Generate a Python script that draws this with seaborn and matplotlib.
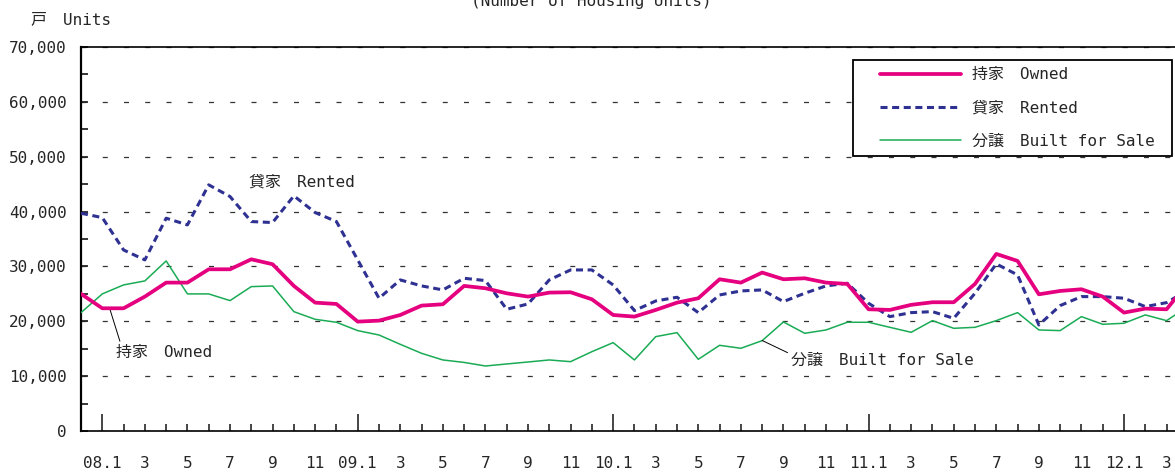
import numpy as np
import pandas as pd
import matplotlib
matplotlib.use('Agg')
import matplotlib.pyplot as plt
from matplotlib.ticker import MultipleLocator, FuncFormatter
from matplotlib.lines import Line2D
from matplotlib.legend_handler import HandlerLine2D
import seaborn as sns

# monthly housing starts, 07.12 .. 12.4 (units)
owned = [25000, 22370, 22370, 24500, 27050, 27050, 29480, 29480, 31300, 30400,
         26450, 23400, 23160, 19940, 20120, 21150, 22860, 23100, 26450, 26020,
         25100, 24500, 25230, 25290, 24010, 21150, 20850, 22070, 23400, 24200,
         27660, 27050, 28880, 27660, 27840, 27050, 26810, 22190, 22070, 23000,
         23470, 23470, 26810, 32280, 31000, 24920, 25530, 25840, 24500, 21580,
         22310, 22190, 27000]
rented = [39700, 38900, 33000, 31190, 38790, 37570, 44870, 42740, 38180, 38000,
          42860, 39820, 38180, 31190, 24200, 27540, 26450, 25720, 27840, 27420,
          22190, 23160, 27540, 29360, 29360, 26630, 21950, 23700, 24380, 21580,
          24800, 25530, 25720, 23590, 25110, 26450, 26930, 23280, 20850, 21580,
          21760, 20540, 25110, 30460, 28450, 19330, 22860, 24500, 24500, 24200,
          22680, 23400, 25700]
for_sale = [21580, 24990, 26630, 27360, 31000, 24990, 24990, 23770, 26320, 26440,
            21760, 20360, 19820, 18300, 17500, 15800, 14160, 12950, 12500, 11850,
            12220, 12580, 12950, 12640, 14460, 16110, 12950, 17200, 17930, 13070,
            15620, 15080, 16470, 19880, 17810, 18420, 19820, 19820, 18900, 17990,
            20120, 18720, 18900, 20120, 21580, 18420, 18300, 20850, 19450, 19640,
            21160, 20120, 22700]

jan_labels = ['08.1', '09.1', '10.1', '11.1', '12.1']
series_names = ['持家　Owned', '貸家　Rented', '分譲　Built for Sale']

df = pd.DataFrame({'month': np.arange(len(owned)), 'owned': owned,
                   'rented': rented, 'for_sale': for_sale})

sns.set_style('white')
plt.rcParams['font.family'] = ['DejaVu Sans Mono', 'Noto Sans CJK JP']
plt.rcParams['font.size'] = 11.5

W, H = 1175, 472
fig = plt.figure(figsize=(W / 100, H / 100), dpi=100)
ax = fig.add_axes([81 / W, (H - 431) / H, (1190 - 81) / W, (431 - 47) / H])

pink = '#e5007f'
navy = '#2e3192'
green = '#1aab55'

sns.lineplot(data=df, x='month', y='for_sale', ax=ax, color=green, linewidth=1.1,
             label=series_names[2], zorder=3)
sns.lineplot(data=df, x='month', y='rented', ax=ax, color=navy, linewidth=2.2,
             linestyle=(0, (2.3, 1.5)), label=series_names[1], zorder=4)
sns.lineplot(data=df, x='month', y='owned', ax=ax, color=pink, linewidth=2.7,
             label=series_names[0], zorder=5)

ax.set_xlim(0, 52.1)
ax.set_ylim(0, 70000)
ax.set_xlabel('')
ax.set_ylabel('')

# y axis
ax.yaxis.set_major_locator(MultipleLocator(10000))
ax.yaxis.set_minor_locator(MultipleLocator(5000))
ax.yaxis.set_major_formatter(FuncFormatter(lambda v, p: f'{int(v):,}'))
ax.tick_params(axis='y', which='both', direction='in', length=5, width=1.3,
               pad=10, left=True, labelsize=11.5)
ax.yaxis.grid(True, which='major', color='#333333', linewidth=0.9,
              linestyle=(0, (4, 13)))

# x axis
idx = df['month'].to_numpy()
month_no = (idx - 1) % 12 + 1
jan_pos = idx[month_no == 1]
oth_pos = idx[(month_no != 1) & (idx > 0)]
oth_lab = [str(m) if m % 2 else '' for m in month_no[oth_pos]]
ax.set_xticks(jan_pos, jan_labels)
ax.set_xticks(oth_pos, oth_lab, minor=True)
ax.tick_params(axis='x', which='major', direction='in', length=12, width=1.2,
               pad=18, bottom=True, labelsize=11.5)
ax.tick_params(axis='x', which='minor', direction='in', length=5, width=1.2,
               pad=18, bottom=True, labelsize=11.5)

for side in ['left', 'top', 'bottom', 'right']:
    ax.spines[side].set_color('black')
ax.spines['left'].set_linewidth(1.6)
ax.spines['top'].set_linewidth(1.2)
ax.spines['bottom'].set_linewidth(1.2)

# legend
handles, labels = ax.get_legend_handles_labels()
order = [labels.index(n) for n in series_names]
leg = ax.legend([handles[i] for i in order], [labels[i] + ' ' for i in order],
                loc='upper right', bbox_to_anchor=(1172 / W, (H - 60) / H),
                bbox_transform=fig.transFigure, borderaxespad=0,
                frameon=True, fancybox=False,
                edgecolor='black', framealpha=1, handlelength=6.3,
                handletextpad=0.7, labelspacing=1.15, borderpad=0.45,
                fontsize=11.5, handler_map={Line2D: HandlerLine2D(xpad=1.2)})
leg.get_frame().set_linewidth(1.3)

# in-chart labels
ax.text(7.9, 45300, '貸家　Rented', ha='left', va='center', fontsize=11.5)
ax.annotate('持家　Owned', xy=(1.35, 22300), xytext=(1.65, 14400),
            ha='left', va='center', fontsize=11.5,
            arrowprops=dict(arrowstyle='-', color='black', lw=0.7,
                            shrinkA=0, shrinkB=0, relpos=(0.05, 1.0)))
ax.annotate('分譲　Built for Sale', xy=(32.0, 16500), xytext=(33.35, 12900),
            ha='left', va='center', fontsize=11.5,
            arrowprops=dict(arrowstyle='-', color='black', lw=0.7,
                            shrinkA=0, shrinkB=0, relpos=(0.0, 0.9)))

fig.text(31 / W, (H - 20) / H, '戸　Units', ha='left', va='center', fontsize=11.5)
fig.text(591 / W, 1.0 - 1.5 / H, '(Number of Housing Units)', ha='center',
         va='center', fontsize=11.5)

fig.savefig('out.png', dpi=100)
